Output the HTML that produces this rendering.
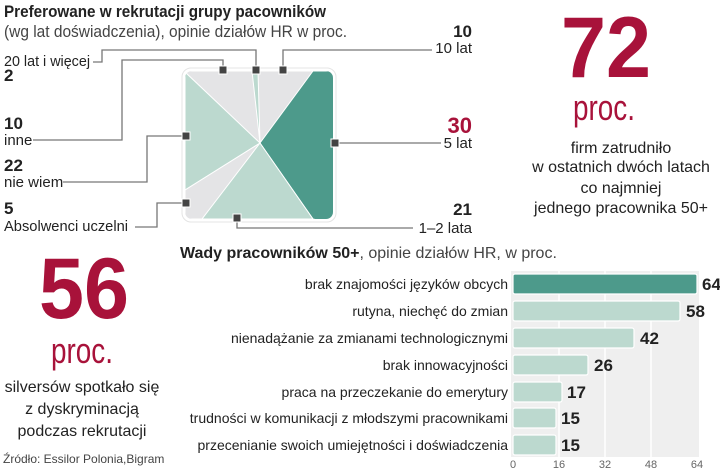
<!DOCTYPE html>
<html><head><meta charset="utf-8"><style>
html,body{margin:0;padding:0;background:#fff;}
svg{display:block;font-family:"Liberation Sans Narrow","Liberation Sans",sans-serif;}
.b{font-weight:bold}
</style></head><body>
<svg width="720" height="471" viewBox="0 0 720 471" xmlns="http://www.w3.org/2000/svg">
<text x="4" y="17" font-size="17" class="b" fill="#222" textLength="322" lengthAdjust="spacingAndGlyphs">Preferowane w rekrutacji grupy pacowników</text>
<text x="4" y="37" font-size="17" fill="#444" textLength="343" lengthAdjust="spacingAndGlyphs">(wg lat doświadczenia), opinie działów HR w proc.</text>

<defs><clipPath id="c"><rect x="185" y="71" width="148" height="148" rx="7"/></clipPath></defs>
<rect x="182" y="68" width="154" height="154" rx="9" fill="#fff" stroke="#e4e4e4" stroke-width="1"/>
<g clip-path="url(#c)" stroke="#fff" stroke-width="1">
<rect x="185" y="71" width="148" height="148" fill="#e4e4e6"/>
<polygon points="260,143 313,71 340,71 340,225 313,219" fill="#4d9a8b"/>
<polygon points="260,143 313,219 202,219" fill="#bcd9cf"/>
<polygon points="260,143 185,190 185,72" fill="#bcd9cf"/>
<polygon points="260,143 252,71 258,71" fill="#bcd9cf"/>
</g>

<g stroke="#777" stroke-width="1.3" fill="none">
<polyline points="93,62 102,62 102,50 256,50 256,70"/>
<polyline points="33,140 122,140 122,60 223,60 223,70"/>
<polyline points="63,182 147,182 147,136 186,136"/>
<polyline points="135,227 157,227 157,203 186,203"/>
<polyline points="283,70 283,50 432,50"/>
<polyline points="335,143 441,143"/>
<polyline points="237,218 237,228 413,228"/>
</g>
<g fill="#444" stroke="#fff" stroke-width="1">
<rect x="219" y="66" width="8" height="8"/><rect x="252" y="66" width="8" height="8"/><rect x="279" y="66" width="8" height="8"/>
<rect x="182" y="132" width="8" height="8"/><rect x="182" y="199" width="8" height="8"/>
<rect x="331" y="139" width="8" height="8"/><rect x="233" y="214" width="8" height="8"/>
</g>

<g font-size="15" fill="#222">
<text x="4" y="66" textLength="86" lengthAdjust="spacingAndGlyphs">20 lat i więcej</text>
<text x="4" y="81" class="b" font-size="17">2</text>
<text x="4" y="129" class="b" font-size="17">10</text>
<text x="4" y="145">inne</text>
<text x="4" y="171" class="b" font-size="17">22</text>
<text x="4" y="187">nie wiem</text>
<text x="4" y="214" class="b" font-size="17">5</text>
<text x="4" y="231" textLength="124" lengthAdjust="spacingAndGlyphs">Absolwenci uczelni</text>
<text x="472" y="37" class="b" font-size="17" text-anchor="end">10</text>
<text x="472" y="53" text-anchor="end">10 lat</text>
<text x="472" y="133" class="b" font-size="22" fill="#a8123a" text-anchor="end">30</text>
<text x="472" y="148" text-anchor="end">5 lat</text>
<text x="472" y="215" class="b" font-size="17" text-anchor="end">21</text>
<text x="472" y="233" text-anchor="end">1–2 lata</text>
</g>

<text x="606" y="77" font-size="86" class="b" fill="#a8123a" text-anchor="middle" textLength="90" lengthAdjust="spacingAndGlyphs">72</text>
<text x="604" y="120" font-size="36" fill="#a8123a" text-anchor="middle" textLength="62" lengthAdjust="spacingAndGlyphs">proc.</text>
<g font-size="16" fill="#222" text-anchor="middle">
<text x="621" y="153">firm zatrudniło</text>
<text x="621" y="172">w ostatnich dwóch latach</text>
<text x="621" y="193">co najmniej</text>
<text x="621" y="213">jednego pracownika 50+</text>
</g>

<text x="84" y="318" font-size="86" class="b" fill="#a8123a" text-anchor="middle" textLength="90" lengthAdjust="spacingAndGlyphs">56</text>
<text x="82" y="363" font-size="36" fill="#a8123a" text-anchor="middle" textLength="62" lengthAdjust="spacingAndGlyphs">proc.</text>
<g font-size="16" fill="#222" text-anchor="middle">
<text x="82" y="392">silversów spotkało się</text>
<text x="82" y="414">z dyskryminacją</text>
<text x="82" y="436">podczas rekrutacji</text>
</g>
<text x="3" y="463" font-size="12" fill="#444">Źródło: Essilor Polonia,Bigram</text>

<text x="180" y="258" font-size="16" fill="#222"><tspan class="b">Wady pracowników 50+</tspan><tspan fill="#444">, opinie działów HR, w proc.</tspan></text>

<rect x="511" y="271" width="188" height="186" fill="#efefef"/>
<g stroke="#fff" stroke-width="1.5"><line x1="559" y1="271" x2="559" y2="457"/><line x1="605" y1="271" x2="605" y2="457"/><line x1="651" y1="271" x2="651" y2="457"/></g>
<g stroke="#fff" stroke-width="1.2">
<rect x="513" y="274" width="184" height="20" rx="2" fill="#4d9a8b"/>
<rect x="513" y="301" width="167" height="20" rx="2" fill="#bcd9cf"/>
<rect x="513" y="328" width="121" height="20" rx="2" fill="#bcd9cf"/>
<rect x="513" y="355" width="75" height="20" rx="2" fill="#bcd9cf"/>
<rect x="513" y="382" width="49" height="20" rx="2" fill="#bcd9cf"/>
<rect x="513" y="408" width="43" height="20" rx="2" fill="#bcd9cf"/>
<rect x="513" y="435" width="43" height="20" rx="2" fill="#bcd9cf"/>
</g>
<g font-size="14" fill="#222" text-anchor="end">
<text x="508" y="289">brak znajomości języków obcych</text>
<text x="508" y="316">rutyna, niechęć do zmian</text>
<text x="508" y="343">nienadążanie za zmianami technologicznymi</text>
<text x="508" y="370">brak innowacyjności</text>
<text x="508" y="397">praca na przeczekanie do emerytury</text>
<text x="508" y="423">trudności w komunikacji z młodszymi pracownikami</text>
<text x="508" y="450">przecenianie swoich umiejętności i doświadczenia</text>
</g>
<g font-size="17" class="b" fill="#222">
<text x="702" y="290">64</text>
<text x="686" y="317">58</text>
<text x="640" y="344">42</text>
<text x="594" y="371">26</text>
<text x="567" y="398">17</text>
<text x="561" y="424">15</text>
<text x="561" y="451">15</text>
</g>
<g font-size="11" fill="#666" text-anchor="middle">
<text x="513" y="468">0</text><text x="559" y="468">16</text><text x="605" y="468">32</text><text x="651" y="468">48</text><text x="697" y="468">64</text>
</g>
</svg>
</body></html>
